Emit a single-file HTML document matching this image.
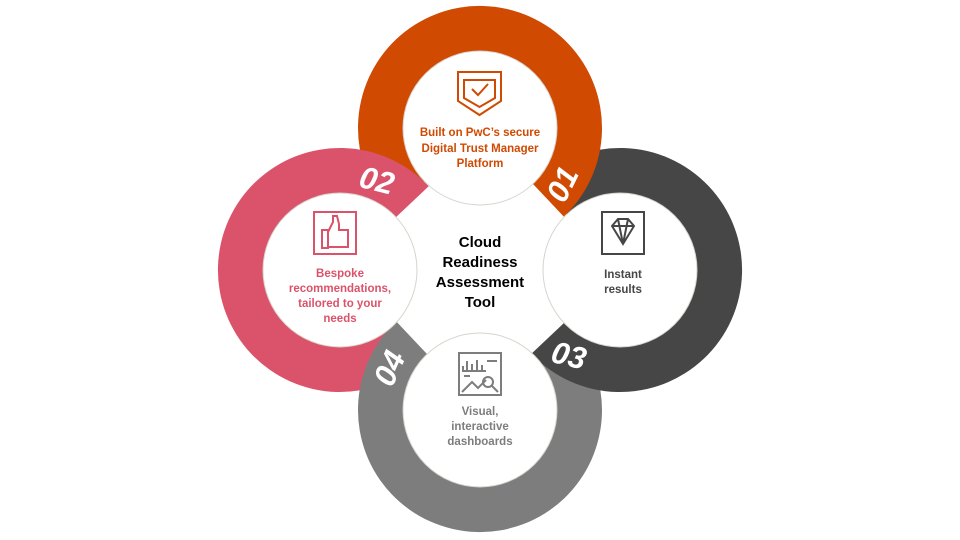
<!DOCTYPE html>
<html><head><meta charset="utf-8"><style>
body{margin:0;background:#fff;width:960px;height:540px;overflow:hidden}
svg{display:block}
text{font-family:"Liberation Sans",Arial,sans-serif;font-weight:bold}
</style></head><body>
<svg width="960" height="540" viewBox="0 0 960 540">
<defs>
<clipPath id="co"><circle cx="480" cy="128" r="122"/></clipPath>
</defs>
<path fill="#db536a" d="M423.8 358.6 A122 122 0 1 1 428.6 186.2 L395.9 217.1 A77 77 0 1 0 392.9 325.9 Z"/>
<path fill="#7d7d7d" d="M568.6 326.2 A122 122 0 1 1 396.2 321.4 L427.1 354.1 A77 77 0 1 0 535.9 357.1 Z"/>
<path fill="#464646" d="M536.2 181.4 A122 122 0 1 1 531.4 353.8 L564.1 322.9 A77 77 0 1 0 567.1 214.1 Z"/>
<path fill="#d04a02" d="M391.4 211.8 A122 122 0 1 1 563.8 216.6 L532.9 183.9 A77 77 0 1 0 424.1 180.9 Z"/>
<path fill="#db536a" clip-path="url(#co)" d="M423.8 358.6 A122 122 0 1 1 428.6 186.2 L395.9 217.1 A77 77 0 1 0 392.9 325.9 Z"/>
<g fill="#fff" stroke="#d8d4cc" stroke-width="1">
<circle cx="480" cy="128" r="77"/>
<circle cx="620" cy="270" r="77"/>
<circle cx="480" cy="410" r="77"/>
<circle cx="340" cy="270" r="77"/>
</g>
<g fill="#fff" font-size="31" font-style="italic">
<text transform="translate(562,184) rotate(-64)" text-anchor="middle" dy="11">01</text>
<text transform="translate(377,180) rotate(14)" text-anchor="middle" dy="11">02</text>
<text transform="translate(569,355) rotate(14)" text-anchor="middle" dy="11">03</text>
<text transform="translate(389,368) rotate(-66)" text-anchor="middle" dy="11">04</text>
</g>
<g font-size="15" fill="#000" text-anchor="middle">
<text x="480" y="247">Cloud</text>
<text x="480" y="267">Readiness</text>
<text x="480" y="287">Assessment</text>
<text x="480" y="307">Tool</text>
</g>
<g fill="none" stroke="#d04a02" stroke-width="2">
<path d="M458 72 H501 V101 L479.5 115 L458 101 Z"/>
<path d="M464 80 H495 V98 L479.5 107 L464 98 Z"/>
<path d="M472 89 L478 95 L488 84"/>
</g>
<g font-size="11.5" fill="#d04a02" text-anchor="middle">
<text x="480" y="136">Built on PwC’s secure</text>
<text x="480" y="152">Digital Trust Manager</text>
<text x="480" y="167">Platform</text>
</g>
<g fill="none" stroke="#464646" stroke-width="2">
<rect x="602" y="212" width="42" height="42"/>
<path d="M612 226 L618 219 H628 L634 226 L623 244 Z M612 226 H634 M618 219 L623 244 M628 219 L623 244"/>
</g>
<g font-size="11.5" fill="#464646" text-anchor="middle">
<text x="623" y="278">Instant</text>
<text x="623" y="293">results</text>
</g>
<g fill="none" stroke="#db536a" stroke-width="2">
<rect x="314" y="212" width="42" height="42"/>
<path d="M322 230 H328 V248 H322 Z M328 232 L333 222 V216 H337 L339 224 V230 H348 V247 H328"/>
</g>
<g font-size="11.5" fill="#db536a" text-anchor="middle">
<text x="340" y="277">Bespoke</text>
<text x="340" y="292">recommendations,</text>
<text x="340" y="307">tailored to your</text>
<text x="340" y="322">needs</text>
</g>
<g fill="none" stroke="#7d7d7d" stroke-width="2">
<rect x="459" y="353" width="42" height="42"/>
<path d="M463 370 V366 M467 370 V361 M472 370 V364 M477 370 V360 M482 370 V365 M462 371 H486 M487 361 H497 M464 376 H470 M462 392 L472 382 L478 388 L486 380"/>
<circle cx="488" cy="382" r="5"/>
<path d="M492 386 L498 392"/>
</g>
<g font-size="11.5" fill="#7d7d7d" text-anchor="middle">
<text x="480" y="415">Visual,</text>
<text x="480" y="430">interactive</text>
<text x="480" y="445">dashboards</text>
</g>
</svg>
</body></html>
